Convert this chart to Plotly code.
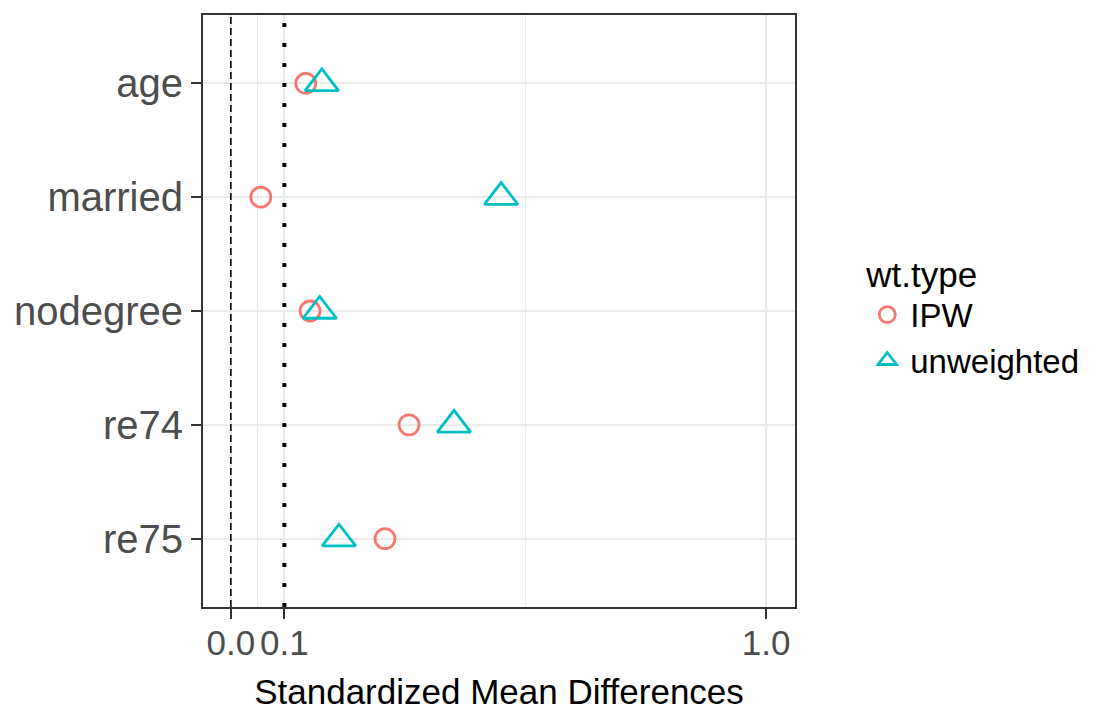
import plotly.graph_objects as go

covariates = ["age", "married", "nodegree", "re74", "re75"]
ipw_smd = [0.140, 0.056, 0.148, 0.333, 0.288]
unweighted_smd = [0.170, 0.505, 0.166, 0.417, 0.202]
thresholds = [0.0, 0.1]
x_tick_vals = [0.0, 0.1, 1.0]
x_tick_text = ["0.0", "0.1", "1.0"]
x_minor_vals = [0.05, 0.55]

FONT = "Liberation Sans, Arial, sans-serif"
IPW_COLOR = "#F8766D"
UNW_COLOR = "#00BFC4"

fig = go.Figure()
fig.add_trace(go.Scatter(
    x=ipw_smd, y=covariates, mode="markers", name="IPW",
    marker=dict(symbol="circle-open", size=20, color=IPW_COLOR, line=dict(width=2.8, color=IPW_COLOR)),
))
fig.add_trace(go.Scatter(
    x=unweighted_smd, y=covariates, mode="markers", name="unweighted",
    marker=dict(symbol="triangle-up-open", size=29, color=UNW_COLOR, line=dict(width=2.8, color=UNW_COLOR)),
))

fig.add_vline(x=thresholds[0], line=dict(color="black", width=1.6, dash="7px,4px"), layer="above")
fig.add_vline(x=thresholds[1], line=dict(color="black", width=4, dash="4px,16px"), layer="above")

fig.update_xaxes(
    range=[-0.052, 1.054],
    tickvals=x_tick_vals, ticktext=x_tick_text,
    showgrid=True, gridcolor="#EBEBEB", gridwidth=2,
    minor=dict(tickvals=x_minor_vals, showgrid=True, gridcolor="#EBEBEB", gridwidth=1, ticklen=0),
    zeroline=False,
    showline=True, mirror=True, linecolor="#333333", linewidth=2,
    ticks="outside", ticklen=10, tickwidth=2, tickcolor="#333333",
    ticklabelstandoff=-6,
    tickfont=dict(family=FONT, size=35, color="#4D4D4D"),
    title=dict(text="Standardized Mean Differences", font=dict(family=FONT, size=35, color="black"), standoff=18),
)
fig.update_yaxes(
    categoryorder="array", categoryarray=covariates,
    range=[4.6, -0.6],
    showgrid=True, gridcolor="#EBEBEB", gridwidth=2,
    zeroline=False,
    showline=True, mirror=True, linecolor="#333333", linewidth=2,
    ticks="outside", ticklen=10, tickwidth=2, tickcolor="#333333",
    tickfont=dict(family=FONT, size=40, color="#4D4D4D"),
)

fig.update_layout(
    width=1098, height=709,
    margin=dict(l=195, r=311, t=5, b=110),
    paper_bgcolor="white", plot_bgcolor="white",
    font=dict(family=FONT),
    legend=dict(
        title=dict(text="wt.type", font=dict(family=FONT, size=35, color="black")),
        font=dict(family=FONT, size=33, color="black"),
        x=1.117, y=0.618, xanchor="left", yanchor="top",
        itemsizing="trace", tracegroupgap=0, itemwidth=36,
    ),
)

fig.write_html("out.html")
